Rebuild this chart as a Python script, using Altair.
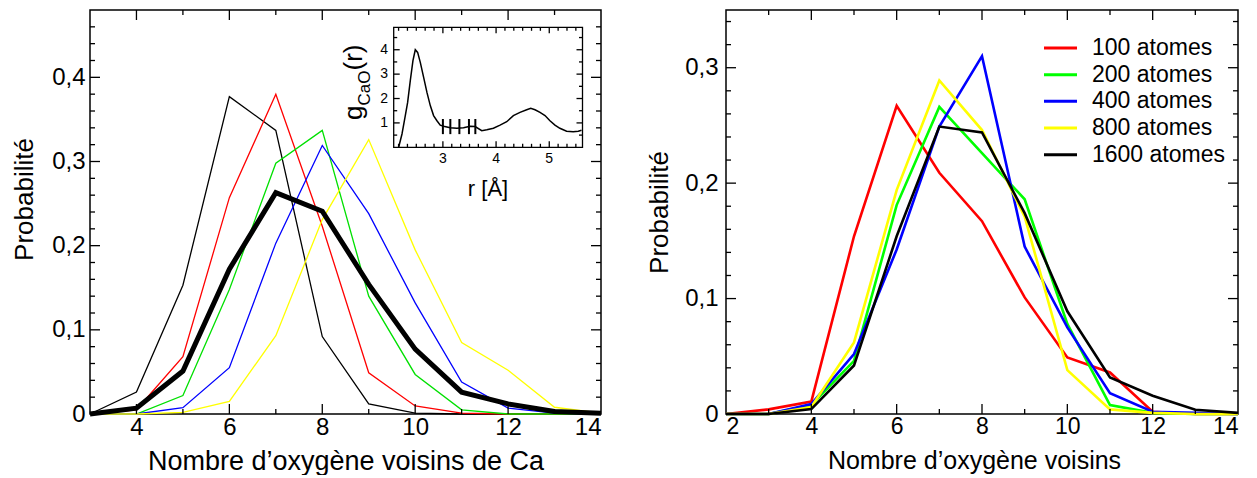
import altair as alt
import pandas as pd
import numpy as np

FONT = "Liberation Sans"

# ---------------- Left panel data ----------------
left_n = [3, 4, 5, 6, 7, 8, 9, 10, 11, 12, 13, 14]
left_names = ["noir", "rouge", "vert", "bleu", "jaune"]
left_colors = ["#000000", "#ff0000", "#00e000", "#0000ff", "#ffff00"]
left_noir = [0, 0.026, 0.153, 0.377, 0.337, 0.092, 0.012, 0.001, 0, 0, 0, 0]
left_rouge = [0, 0.005, 0.068, 0.257, 0.380, 0.223, 0.049, 0.0095, 0.001, 0, 0, 0]
left_vert = [0, 0, 0.022, 0.148, 0.298, 0.337, 0.140, 0.047, 0.005, 0, 0, 0]
left_bleu = [0, 0, 0.0075, 0.055, 0.203, 0.319, 0.238, 0.132, 0.038, 0.007, 0.001, 0]
left_jaune = [0, 0, 0.002, 0.015, 0.093, 0.231, 0.326, 0.195, 0.085, 0.052, 0.008, 0.001]
left_moyenne = [0, 0.007, 0.051, 0.172, 0.263, 0.241, 0.154, 0.077, 0.026, 0.012, 0.003, 0.001]

# ---------------- Inset data (g_CaO(r)) ----------------
inset_r = [2.168, 2.231, 2.293, 2.337, 2.387, 2.437, 2.481, 2.525, 2.575, 2.638, 2.70,
           2.763, 2.825, 2.888, 2.95, 3.013, 3.138, 3.263, 3.388, 3.513, 3.606, 3.731,
           3.826, 3.95, 4.075, 4.20, 4.325, 4.45, 4.576, 4.651, 4.732, 4.826, 4.92,
           5.013, 5.107, 5.20, 5.326, 5.45, 5.545, 5.607]
inset_g = [0.0, 0.545, 1.30, 1.84, 2.73, 3.55, 4.0, 3.89, 3.48, 2.87, 2.25,
           1.71, 1.30, 1.09, 0.91, 0.86, 0.80, 0.78, 0.80, 0.86, 0.85, 0.68,
           0.72, 0.78, 0.91, 1.05, 1.30, 1.43, 1.54, 1.60, 1.54, 1.43, 1.30,
           1.09, 0.91, 0.78, 0.66, 0.64, 0.66, 0.70]
inset_bar_r = [3.0, 3.14, 3.31, 3.49, 3.61]
inset_bar_lo = [0.54] * 5
inset_bar_hi = [1.16] * 5

# ---------------- Right panel data ----------------
right_n = [2, 3, 4, 5, 6, 7, 8, 9, 10, 11, 12, 13, 14]
right_labels = ["100 atomes", "200 atomes", "400 atomes", "800 atomes", "1600 atomes"]
right_colors = ["#ff0000", "#00ff00", "#0000ff", "#ffff00", "#000000"]
right_100 = [0, 0.004, 0.0107, 0.154, 0.267, 0.209, 0.167, 0.101, 0.049, 0.036, 0.002, 0, 0]
right_200 = [0, 0, 0.0078, 0.046, 0.181, 0.266, 0.226, 0.186, 0.078, 0.0078, 0.001, 0, 0]
right_400 = [0, 0, 0.0086, 0.052, 0.1425, 0.249, 0.310, 0.145, 0.075, 0.018, 0.002, 0.001, 0]
right_800 = [0, 0, 0.006, 0.062, 0.194, 0.289, 0.246, 0.171, 0.038, 0.004, 0.001, 0, 0]
right_1600 = [0, 0, 0.0043, 0.042, 0.154, 0.249, 0.244, 0.174, 0.089, 0.0317, 0.0158, 0.0037, 0.001]

# ---------------- Layout ----------------
W_L, W_R, H = 511, 512, 404
MAJ, MIN = 10, 5
IMAJ, IMIN = 6, 3.5
INSET_XR = [303.7, 492.5]
INSET_YR = [137.3, 17.3]

sxL = alt.Scale(domain=[3, 14], nice=False, zero=False)
syL = alt.Scale(domain=[0, 0.48], nice=False, zero=False)
sxR = alt.Scale(domain=[2, 14], nice=False, zero=False)
syR = alt.Scale(domain=[0, 0.35], nice=False, zero=False)
sxI = alt.Scale(domain=[2.075, 5.625], range=INSET_XR, nice=False, zero=False)
syI = alt.Scale(domain=[0, 4.92], range=INSET_YR, nice=False, zero=False)

ylab = "datum.value == 0 ? '0' : replace(format(datum.value, '.1f'), '.', ',')"


def rule_ticks(vals, chan, scale, pos, length, sign, sw=1.3):
    df = pd.DataFrame({"v": vals})
    base = alt.Chart(df).mark_rule(color="black", strokeWidth=sw)
    if chan == "x":
        return base.encode(x=alt.X("v:Q", scale=scale, axis=None),
                           y=alt.value(pos), y2=alt.value(pos + sign * length))
    return base.encode(y=alt.Y("v:Q", scale=scale, axis=None),
                       x=alt.value(pos), x2=alt.value(pos + sign * length))


def frame_ticks(xmaj, xmin, ymaj, ymin, sx, sy, x0, x1, y0, y1, lmaj, lmin):
    out = []
    for vals, ln in ((xmaj, lmaj), (xmin, lmin)):
        out.append(rule_ticks(vals, "x", sx, y1, ln, -1))
        out.append(rule_ticks(vals, "x", sx, y0, ln, 1))
    for vals, ln in ((ymaj, lmaj), (ymin, lmin)):
        out.append(rule_ticks(vals, "y", sy, x0, ln, 1))
        out.append(rule_ticks(vals, "y", sy, x1, ln, -1))
    return out


# ---------------- Left panel ----------------
rows = []
for name, vals in zip(left_names, [left_noir, left_rouge, left_vert, left_bleu, left_jaune]):
    for n, v in zip(left_n, vals):
        rows.append({"n": n, "p": v, "serie": name})
df_left = pd.DataFrame(rows)
df_mean = pd.DataFrame({"n": left_n, "p": left_moyenne})

axLx = alt.Axis(values=[4, 6, 8, 10, 12, 14], title="Nombre d’oxygène voisins de Ca",
                labelFontSize=24, titleFontSize=27, labelPadding=1, titlePadding=9, format="d")
axLy = alt.Axis(values=[0, 0.1, 0.2, 0.3, 0.4], title="Probabilité", labelExpr=ylab,
                labelFontSize=24, titleFontSize=26, labelPadding=5, titlePadding=14, titleY=189)

left_lines = alt.Chart(df_left).mark_line(strokeWidth=1.3).encode(
    x=alt.X("n:Q", scale=sxL, axis=axLx),
    y=alt.Y("p:Q", scale=syL, axis=axLy),
    color=alt.Color("serie:N", scale=alt.Scale(domain=left_names, range=left_colors), legend=None),
)
left_thick = alt.Chart(df_mean).mark_line(strokeWidth=5, color="black").encode(
    x=alt.X("n:Q", scale=sxL, axis=None),
    y=alt.Y("p:Q", scale=syL, axis=None),
)
left_ticks = frame_ticks([4, 6, 8, 10, 12], [5, 7, 9, 11, 13],
                         [0.1, 0.2, 0.3, 0.4],
                         [v for v in np.round(np.arange(0.02, 0.48, 0.02), 2) if round(v * 10) != v * 10],
                         sxL, syL, 0, W_L, 0, H, MAJ, MIN)

# inset
df_inset = pd.DataFrame({"r": inset_r, "g": inset_g})
df_bars = pd.DataFrame({"r": inset_bar_r, "lo": inset_bar_lo, "hi": inset_bar_hi})
inset_box = alt.Chart(pd.DataFrame({"x0": [2.075], "x1": [5.625], "y0": [0], "y1": [4.92]})).mark_rect(
    fill="white", stroke="black", strokeWidth=1.3).encode(
    x=alt.X("x0:Q", scale=sxI, axis=None), x2="x1:Q",
    y=alt.Y("y0:Q", scale=syI, axis=None), y2="y1:Q")
inset_line = alt.Chart(df_inset).mark_line(color="black", strokeWidth=1.5).encode(
    x=alt.X("r:Q", scale=sxI, axis=None), y=alt.Y("g:Q", scale=syI, axis=None))
inset_bars = alt.Chart(df_bars).mark_rule(color="black", strokeWidth=2).encode(
    x=alt.X("r:Q", scale=sxI, axis=None), y=alt.Y("lo:Q", scale=syI, axis=None), y2="hi:Q")
inset_minor_x = [round(2 + k / 6, 4) for k in range(1, 22) if k % 6 != 0]
inset_ticks = frame_ticks([3, 4, 5], inset_minor_x, [1, 2, 3, 4], [0.5, 1.5, 2.5, 3.5, 4.5],
                          sxI, syI, INSET_XR[0], INSET_XR[1], INSET_YR[1], INSET_YR[0], IMAJ, IMIN)
inset_xlab = alt.Chart(pd.DataFrame({"v": [3, 4, 5]})).mark_text(
    fontSize=14, baseline="middle", align="center").encode(
    x=alt.X("v:Q", scale=sxI, axis=None), y=alt.value(149), text=alt.Text("v:Q", format="d"))
inset_ylab = alt.Chart(pd.DataFrame({"v": [1, 2, 3, 4]})).mark_text(
    fontSize=14, baseline="middle", align="right").encode(
    y=alt.Y("v:Q", scale=syI, axis=None), x=alt.value(298), text=alt.Text("v:Q", format="d"))
inset_xtitle = alt.Chart(pd.DataFrame({"t": ["r [Å]"]})).mark_text(
    fontSize=22, baseline="middle", align="center").encode(
    x=alt.value(398), y=alt.value(179), text="t:N")
yt_parts = ["g", "CaO", "(r)"]
inset_yt_g = alt.Chart(pd.DataFrame({"t": [yt_parts[0]]})).mark_text(
    fontSize=26, angle=270, align="left", baseline="alphabetic").encode(
    x=alt.value(272), y=alt.value(110), text="t:N")
inset_yt_sub = alt.Chart(pd.DataFrame({"t": [yt_parts[1]]})).mark_text(
    fontSize=17, angle=270, align="left", baseline="alphabetic").encode(
    x=alt.value(280), y=alt.value(95.5), text="t:N")
inset_yt_r = alt.Chart(pd.DataFrame({"t": [yt_parts[2]]})).mark_text(
    fontSize=26, angle=270, align="left", baseline="alphabetic").encode(
    x=alt.value(272), y=alt.value(60.5), text="t:N")

left = alt.layer(
    left_lines, left_thick, *left_ticks,
    inset_box, inset_line, inset_bars, *inset_ticks, inset_xlab, inset_ylab,
    inset_xtitle, inset_yt_g, inset_yt_sub, inset_yt_r,
).resolve_scale(x="independent", y="independent").properties(width=W_L, height=H)

# ---------------- Right panel ----------------
rows = []
for name, vals in zip(right_labels, [right_100, right_200, right_400, right_800, right_1600]):
    for n, v in zip(right_n, vals):
        rows.append({"n": n, "p": v, "serie": name})
df_right = pd.DataFrame(rows)
color_R = alt.Color("serie:N", scale=alt.Scale(domain=right_labels, range=right_colors), legend=None)

axRx = alt.Axis(values=[2, 4, 6, 8, 10, 12, 14], title="Nombre d’oxygène voisins",
                labelFontSize=23, titleFontSize=25, labelPadding=1, titlePadding=10,
                titleX=248, format="d")
axRy = alt.Axis(values=[0, 0.1, 0.2, 0.3], title="Probabilité", labelExpr=ylab,
                labelFontSize=24, titleFontSize=26, labelPadding=8, titlePadding=12)
right_lines = alt.Chart(df_right).mark_line(strokeWidth=2.6).encode(
    x=alt.X("n:Q", scale=sxR, axis=axRx),
    y=alt.Y("p:Q", scale=syR, axis=axRy),
    color=color_R,
)
right_ticks = frame_ticks([4, 6, 8, 10, 12], [3, 5, 7, 9, 11, 13],
                          [0.1, 0.2, 0.3],
                          [v for v in np.round(np.arange(0.02, 0.35, 0.02), 2) if round(v * 10) != v * 10],
                          sxR, syR, 0, W_R, 0, H, MAJ, MIN)

df_leg = pd.DataFrame({"serie": right_labels})
sy_leg = alt.Scale(type="point", domain=right_labels, range=[38, 144.7], padding=0)
leg_lines = alt.Chart(df_leg).mark_rule(strokeWidth=3).encode(
    y=alt.Y("serie:N", scale=sy_leg, axis=None), x=alt.value(318), x2=alt.value(351), color=color_R)
leg_text = alt.Chart(df_leg).mark_text(fontSize=23, align="left", baseline="middle").encode(
    y=alt.Y("serie:N", scale=sy_leg, axis=None), x=alt.value(366), text="serie:N")

right = alt.layer(right_lines, *right_ticks, leg_lines, leg_text).resolve_scale(
    x="independent", y="independent").properties(width=W_R, height=H)

chart = alt.hconcat(left, right, spacing=33).resolve_scale(
    color="independent").properties(padding={"left": 2, "top": 0, "right": 5, "bottom": 0})
chart = chart.configure(font=FONT).configure_view(stroke="black", strokeWidth=1.5).configure_axis(
    labelColor="black", titleColor="black", labelFont=FONT, titleFont=FONT,
    titleFontWeight="normal", grid=False, ticks=False, domain=False)

chart.save("out.html", embed_options={"renderer": "svg", "actions": False})
